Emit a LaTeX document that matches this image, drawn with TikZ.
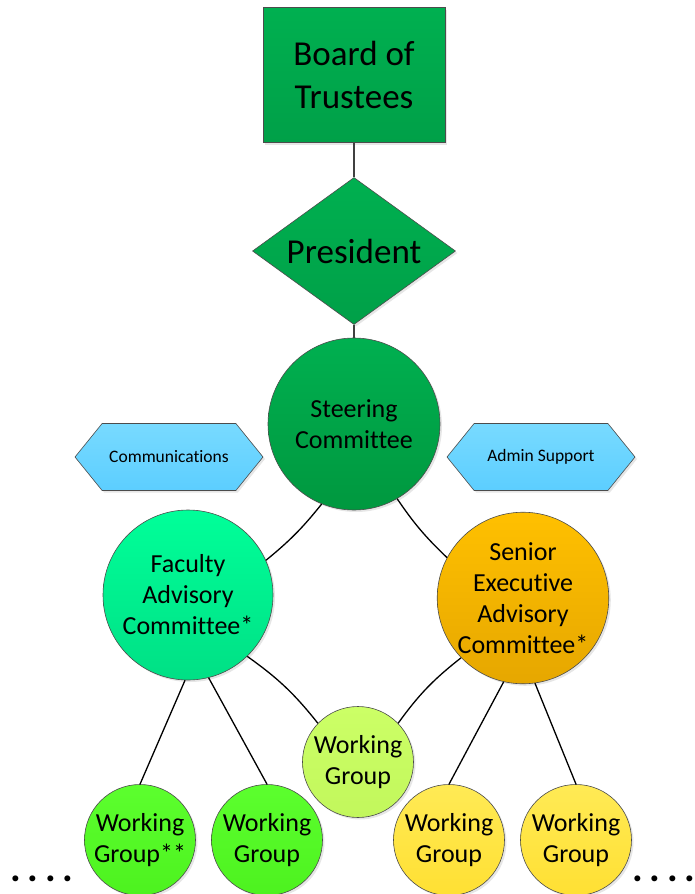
\documentclass[tikz,border=0pt]{standalone}
\usepackage{fontspec}
\setmainfont{Carlito}[Ligatures=NoCommon]
\usetikzlibrary{shapes.geometric,shapes.symbols,shadows}

\definecolor{boardtop}{HTML}{00B050}
\definecolor{boardbot}{HTML}{00A048}
\definecolor{steertop}{HTML}{00B050}
\definecolor{steerbot}{HTML}{00983F}
\definecolor{factop}{HTML}{00FF99}
\definecolor{facbot}{HTML}{00E085}
\definecolor{seactop}{HTML}{FFC000}
\definecolor{seacbot}{HTML}{E6A700}
\definecolor{midtop}{HTML}{CCFF66}
\definecolor{midbot}{HTML}{C2F75C}
\definecolor{lefttop}{HTML}{5CFF2E}
\definecolor{leftbot}{HTML}{4DF21F}
\definecolor{righttop}{HTML}{FFEA55}
\definecolor{rightbot}{HTML}{FFE033}
\definecolor{hextop}{HTML}{78DAFF}
\definecolor{hexbot}{HTML}{5CCEFF}

\newcommand\bigfont{\fontsize{35}{43}\selectfont}
\newcommand\midfont{\fontsize{26}{31}\selectfont}
\newcommand\tinyfont{\fontsize{17.5}{21}\selectfont}
\newcommand\dotfont{\fontsize{40}{48}\selectfont\bfseries}
\newcommand\moredots{.\kern6.8pt.\kern6.8pt.\kern6.8pt.}

\begin{document}
\begin{tikzpicture}[x=1pt,y=-1pt,
	unit/.style={draw=black!70, line width=0.6pt, align=center, inner sep=0pt,
		drop shadow={shadow xshift=2pt, shadow yshift=-2pt, opacity=0.2}},
	circ/.style={unit, circle, minimum size=#1, font=\midfont},
	hexa/.style={unit, signal, signal to=west and east, signal pointer angle=102,
		minimum width=188pt, minimum height=67pt, font=\tinyfont,
		top color=hextop, bottom color=hexbot},
	link/.style={line width=1.3pt, black}]

	\useasboundingbox (0,0) rectangle (695,894);

	% Top
	\node[unit, rectangle, minimum width=182pt, minimum height=135pt, font=\bigfont,
		top color=boardtop, bottom color=boardbot] (board) at (354,75) {Board of\\Trustees};
	\node[unit, diamond, minimum width=203pt, minimum height=147pt, aspect=1.38, font=\bigfont,
		top color=boardtop, bottom color=boardbot] (pres) at (354,251) {President};
	\node[circ=172pt, top color=steertop, bottom color=steerbot] (steer) at (354,424) {Steering\\Committee};

	% Support
	\node[hexa] (comm) at (169,457) {Communications};
	\node[hexa] (admin) at (541,457) {Admin Support};

	% Committees
	\node[circ=170pt, top color=factop, bottom color=facbot] (fac) at (188,595) {Faculty\\Advisory\\Committee*};
	\node[circ=164pt, top color=seactop, bottom color=seacbot] (seac) at (523,598) {Senior\\Executive\\Advisory\\Committee*};

	% Working groups
	\node[circ=111pt, top color=midtop, bottom color=midbot] (wgmid) at (358,762) {Working\\Group};
	\node[circ=111pt, top color=lefttop, bottom color=leftbot] (wga) at (140,840) {Working\\Group**};
	\node[circ=111pt, top color=lefttop, bottom color=leftbot] (wgb) at (267,840) {Working\\Group};
	\node[circ=111pt, top color=righttop, bottom color=rightbot] (wgc) at (449,840) {Working\\Group};
	\node[circ=111pt, top color=righttop, bottom color=rightbot] (wgd) at (576,840) {Working\\Group};

	\node[font=\dotfont, anchor=base west, inner sep=0pt] (moreleft) at (10,881) {\moredots};
	\node[font=\dotfont, anchor=base west, inner sep=0pt] (moreright) at (632,881) {\moredots};

	% Links
	\draw[link, black!75] (board) -- (pres);
	\draw[link, black!75] (pres) -- (steer);
	\draw[link] (steer.248) to[bend left=6] (fac.24);
	\draw[link] (steer.300) to[bend right=6] (seac.152);
	\draw[link] (fac.268) -- (wga.north);
	\draw[link] (fac.284) -- (wgb.north);
	\draw[link] (fac.314) to[bend left=8] (wgmid.136);
	\draw[link] (seac.224) to[bend right=8] (wgmid.44);
	\draw[link] (seac.257) -- (wgc.north);
	\draw[link] (seac.278) -- (wgd.north);
\end{tikzpicture}
\end{document}
